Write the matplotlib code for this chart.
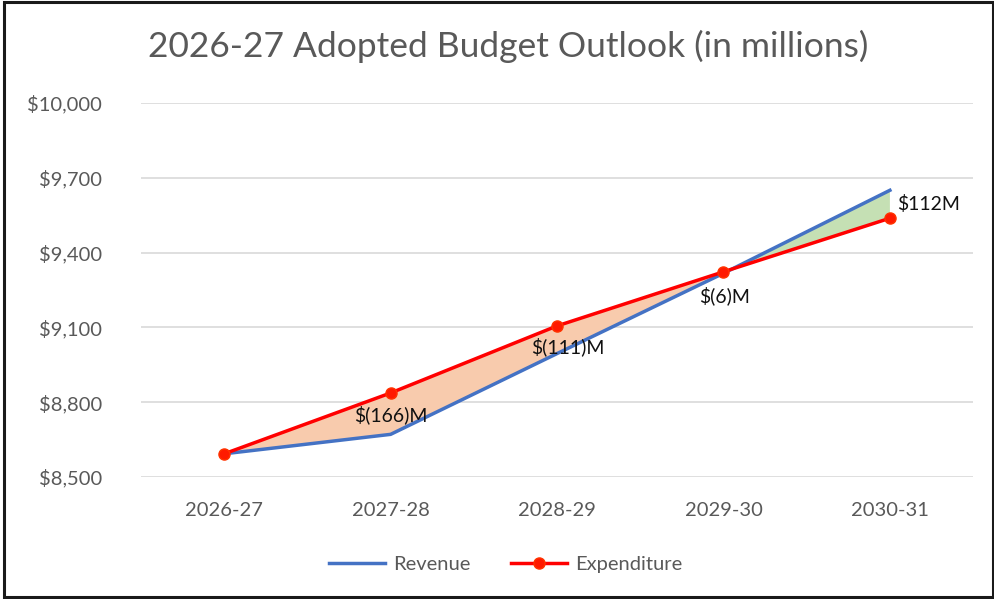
import matplotlib.pyplot as plt
from matplotlib.patches import Rectangle

plt.rcParams['font.family'] = ['Lato', 'DejaVu Sans']

# Datos (en millones)
years = ['2026-27', '2027-28', '2028-29', '2029-30', '2030-31']
revenue = [8593, 8671, 8995, 9317, 9650]
expenditure = [8593, 8837, 9106, 9323, 9538]
y_ticks = [8500, 8800, 9100, 9400, 9700, 10000]

# posiciones de las etiquetas (pixeles respecto al punto)
label_offsets = [None, (0, -22), (11, -21), (1, -24), (7, 14)]

fig = plt.figure(figsize=(9.95, 5.99), dpi=100)
ax = fig.add_axes([0.1417, 0.2037, 0.8363, 0.6243])

x = list(range(len(years)))
rev_above = [r >= e for r, e in zip(revenue, expenditure)]
rev_below = [r <= e for r, e in zip(revenue, expenditure)]
ax.fill_between(x, revenue, expenditure, where=rev_below, interpolate=True,
                color='#F8CBAD', linewidth=0, zorder=1)
ax.fill_between(x, revenue, expenditure, where=rev_above, interpolate=True,
                color='#C5E0B4', linewidth=0, zorder=1)

ax.plot(x, revenue, color='#4472C4', linewidth=2.5, label='Revenue', zorder=3)
ax.plot(x, expenditure, color='#FF0000', linewidth=2.5, marker='o', markersize=8,
        markerfacecolor='#FF1A00', markeredgecolor='#FF3300', label='Expenditure', zorder=4)

# etiquetas de diferencia
for i in range(1, len(years)):
    diff = revenue[i] - expenditure[i]
    txt = f'${diff}M' if diff >= 0 else f'$({-diff})M'
    dx, dy = label_offsets[i]
    ha = 'left' if diff >= 0 else 'center'
    ax.annotate(txt, (x[i], expenditure[i]), xytext=(dx, dy), textcoords='offset pixels',
                ha=ha, va='center', fontsize=14, color='#111111', zorder=5)

ax.set_xlim(-0.5, len(years) - 0.5)
ax.set_ylim(8500, 10000)
ax.set_xticks(x)
ax.set_xticklabels(years)
ax.set_yticks(y_ticks)
ax.set_yticklabels([f'${v:,}' for v in y_ticks])
ax.tick_params(length=0, labelsize=14.5, labelcolor='#595959')
ax.tick_params(axis='x', pad=18)
ax.tick_params(axis='y', pad=28)
ax.grid(axis='y', color='#D9D9D9', linewidth=1.2)
ax.set_axisbelow(True)
for s in ax.spines.values():
    s.set_visible(False)

fig.text(0.511, 0.922, '2026-27 Adopted Budget Outlook (in millions)', ha='center', va='center',
         fontsize=25.5, color='#595959')

fig.legend(loc='center', bbox_to_anchor=(0.508, 0.057), ncol=2, frameon=False,
           fontsize=14.5, labelcolor='#595959', handlelength=2.8, columnspacing=2.0,
           handletextpad=0.4)

# marco exterior
fig.patches.append(Rectangle((0.004, 0.003), 0.994, 0.993, transform=fig.transFigure,
                             fill=False, edgecolor='#1a1a1a', linewidth=2.2))

fig.savefig('out.png', dpi=100)
